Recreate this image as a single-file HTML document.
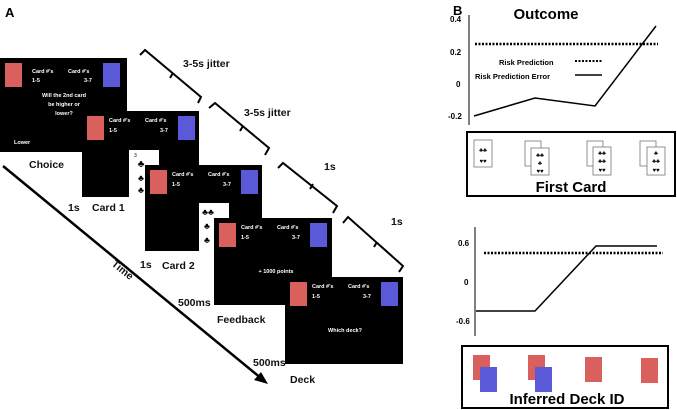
<!DOCTYPE html>
<html><head><meta charset="utf-8"><style>
html,body{margin:0;padding:0;background:#fff;}
svg{display:block;font-family:"Liberation Sans",sans-serif;}
.w{fill:#fff;font-size:5.5px;font-weight:bold;}
.l{font-size:10.5px;font-weight:bold;fill:#111;}
</style></head><body>
<svg width="677" height="410" viewBox="0 0 677 410" xmlns="http://www.w3.org/2000/svg">
<defs>
<g id="hdr">
<rect x="5" y="5" width="17" height="24" fill="#d9605c"/>
<rect x="96" y="5" width="17" height="24" fill="#5a5ad8"/>
<text class="w" x="27" y="11">Card #'s</text>
<text class="w" x="27" y="21">1-5</text>
<text class="w" x="63" y="11">Card #'s</text>
<text class="w" x="78" y="21">3-7</text>
</g>
</defs>
<text x="5" y="17" style="font-size:13px;font-weight:bold">A</text>
<text x="453" y="15" style="font-size:13px;font-weight:bold">B</text>

<g fill="none" stroke="#000" stroke-width="2">
<polyline points="140,55 145,50 201,97 198,103"/><line x1="173" y1="73" x2="170" y2="78"/>
<polyline points="209,108 215,103 269,148 265,155"/><line x1="243" y1="126" x2="240" y2="131"/>
<polyline points="278,168 283,163 337,206 333,213"/><line x1="313" y1="184" x2="310" y2="189"/>
<polyline points="343,223 348,217 403,266 399,272"/><line x1="377" y1="242" x2="374" y2="247"/>
</g>
<text class="l" x="183" y="67">3-5s jitter</text>
<text class="l" x="244" y="116">3-5s jitter</text>
<text class="l" x="324" y="170">1s</text>
<text class="l" x="391" y="225">1s</text>

<line x1="3" y1="166" x2="262" y2="379" stroke="#000" stroke-width="2.5"/>
<polygon points="268,384 254,380 261,372" fill="#000"/>
<text class="l" x="0" y="0" transform="translate(111,265) rotate(39)">Time</text>
<text class="l" x="68" y="211">1s</text>
<text class="l" x="140" y="268">1s</text>
<text class="l" x="178" y="306">500ms</text>
<text class="l" x="253" y="366">500ms</text>

<g transform="translate(0,58)">
<rect width="127" height="94" fill="#000"/>
<rect x="5" y="5" width="17" height="24" fill="#d9605c"/>
<rect x="103" y="5" width="17" height="24" fill="#5a5ad8"/>
<text class="w" x="32" y="15">Card #'s</text><text class="w" x="32" y="24">1-5</text>
<text class="w" x="68" y="15">Card #'s</text><text class="w" x="84" y="24">3-7</text>
<text class="w" x="64" y="39" text-anchor="middle">Will the 2nd card</text>
<text class="w" x="64" y="48" text-anchor="middle">be higher or</text>
<text class="w" x="64" y="57" text-anchor="middle">lower?</text>
<text class="w" x="14" y="86">Lower</text>
</g>
<text class="l" x="29" y="168">Choice</text>

<g transform="translate(82,111)">
<rect width="117" height="86" fill="#000"/>
<use href="#hdr"/>
<rect x="47" y="39" width="30" height="47" fill="#fff"/>
<text x="52" y="46" font-size="5">3</text>
<text x="59" y="56" text-anchor="middle" font-size="10">♣</text>
<text x="59" y="70" text-anchor="middle" font-size="9">♣</text>
<text x="59" y="82" text-anchor="middle" font-size="9">♣</text>
</g>
<text class="l" x="92" y="211">Card 1</text>

<g transform="translate(145,165)">
<rect width="117" height="86" fill="#000"/>
<use href="#hdr"/>
<rect x="54" y="38" width="30" height="48" fill="#fff"/>
<text x="63" y="50" text-anchor="middle" font-size="9">♣♣</text>
<text x="62" y="64" text-anchor="middle" font-size="9">♣</text>
<text x="62" y="78" text-anchor="middle" font-size="9">♣</text>
</g>
<text class="l" x="162" y="269">Card 2</text>

<g transform="translate(214,218)">
<rect width="118" height="87" fill="#000"/>
<use href="#hdr"/>
<text class="w" x="62" y="55" text-anchor="middle">+ 1000 points</text>
</g>
<text class="l" x="217" y="323">Feedback</text>

<g transform="translate(285,277)">
<rect width="118" height="87" fill="#000"/>
<use href="#hdr"/>
<text class="w" x="60" y="55" text-anchor="middle">Which deck?</text>
</g>
<text class="l" x="290" y="383">Deck</text>

<text x="546" y="19" text-anchor="middle" style="font-size:15px;font-weight:bold">Outcome</text>
<line x1="469" y1="15" x2="469" y2="125" stroke="#555" stroke-width="1.5"/>
<g style="font-size:8px;font-weight:bold">
<text x="450" y="22">0.4</text><text x="450" y="55">0.2</text>
<text x="456" y="87">0</text><text x="448" y="119">-0.2</text>
</g>
<line x1="475" y1="44" x2="658" y2="44" stroke="#000" stroke-width="2.5" stroke-dasharray="2,1.5"/>
<polyline points="474,116 535,98 595,106 656,26" fill="none" stroke="#000" stroke-width="1.5"/>
<text x="499" y="65" style="font-size:7.5px;font-weight:bold">Risk Prediction</text>
<line x1="575" y1="61" x2="602" y2="61" stroke="#000" stroke-width="2" stroke-dasharray="2,1.5"/>
<text x="475" y="79" style="font-size:7.5px;font-weight:bold">Risk Prediction Error</text>
<line x1="575" y1="75" x2="602" y2="75" stroke="#000" stroke-width="1.5"/>

<rect x="467" y="132" width="208" height="64" fill="none" stroke="#000" stroke-width="2"/>
<g fill="#fff" stroke="#777" stroke-width="0.8">
<rect x="474" y="140" width="18" height="27"/>
<rect x="525" y="141" width="16" height="25"/><rect x="531" y="148" width="18" height="27"/>
<rect x="587" y="141" width="16" height="25"/><rect x="593" y="147" width="18" height="28"/>
<rect x="640" y="141" width="16" height="25"/><rect x="647" y="147" width="18" height="28"/>
</g>
<g font-size="6" text-anchor="middle">
<text x="483" y="152">♣♣</text><text x="483" y="163">♥♥</text>
<text x="540" y="157">♣♣</text><text x="540" y="165">♣</text><text x="540" y="173">♥♥</text>
<text x="602" y="155">♣♣</text><text x="602" y="163">♣♣</text><text x="602" y="172">♥♥</text>
<text x="656" y="155">♣</text><text x="656" y="163">♣♣</text><text x="656" y="172">♥♥</text>
</g>
<text x="571" y="192" text-anchor="middle" style="font-size:15px;font-weight:bold">First Card</text>

<line x1="475" y1="227" x2="475" y2="336" stroke="#555" stroke-width="1.5"/>
<g style="font-size:8px;font-weight:bold">
<text x="458" y="246">0.6</text><text x="464" y="285">0</text><text x="456" y="324">-0.6</text>
</g>
<line x1="484" y1="253" x2="663" y2="253" stroke="#000" stroke-width="2.5" stroke-dasharray="2,1.5"/>
<polyline points="476,311 535,311 596,246 657,246" fill="none" stroke="#000" stroke-width="1.5"/>

<rect x="462" y="346" width="206" height="62" fill="none" stroke="#000" stroke-width="2"/>
<rect x="473" y="355" width="17" height="25" fill="#d9605c"/>
<rect x="480" y="367" width="17" height="25" fill="#5a5ad8"/>
<rect x="528" y="355" width="17" height="25" fill="#d9605c"/>
<rect x="535" y="367" width="17" height="25" fill="#5a5ad8"/>
<rect x="585" y="357" width="17" height="25" fill="#d9605c"/>
<rect x="641" y="358" width="17" height="25" fill="#d9605c"/>
<text x="567" y="404" text-anchor="middle" style="font-size:15px;font-weight:bold">Inferred Deck ID</text>
</svg>
</body></html>
